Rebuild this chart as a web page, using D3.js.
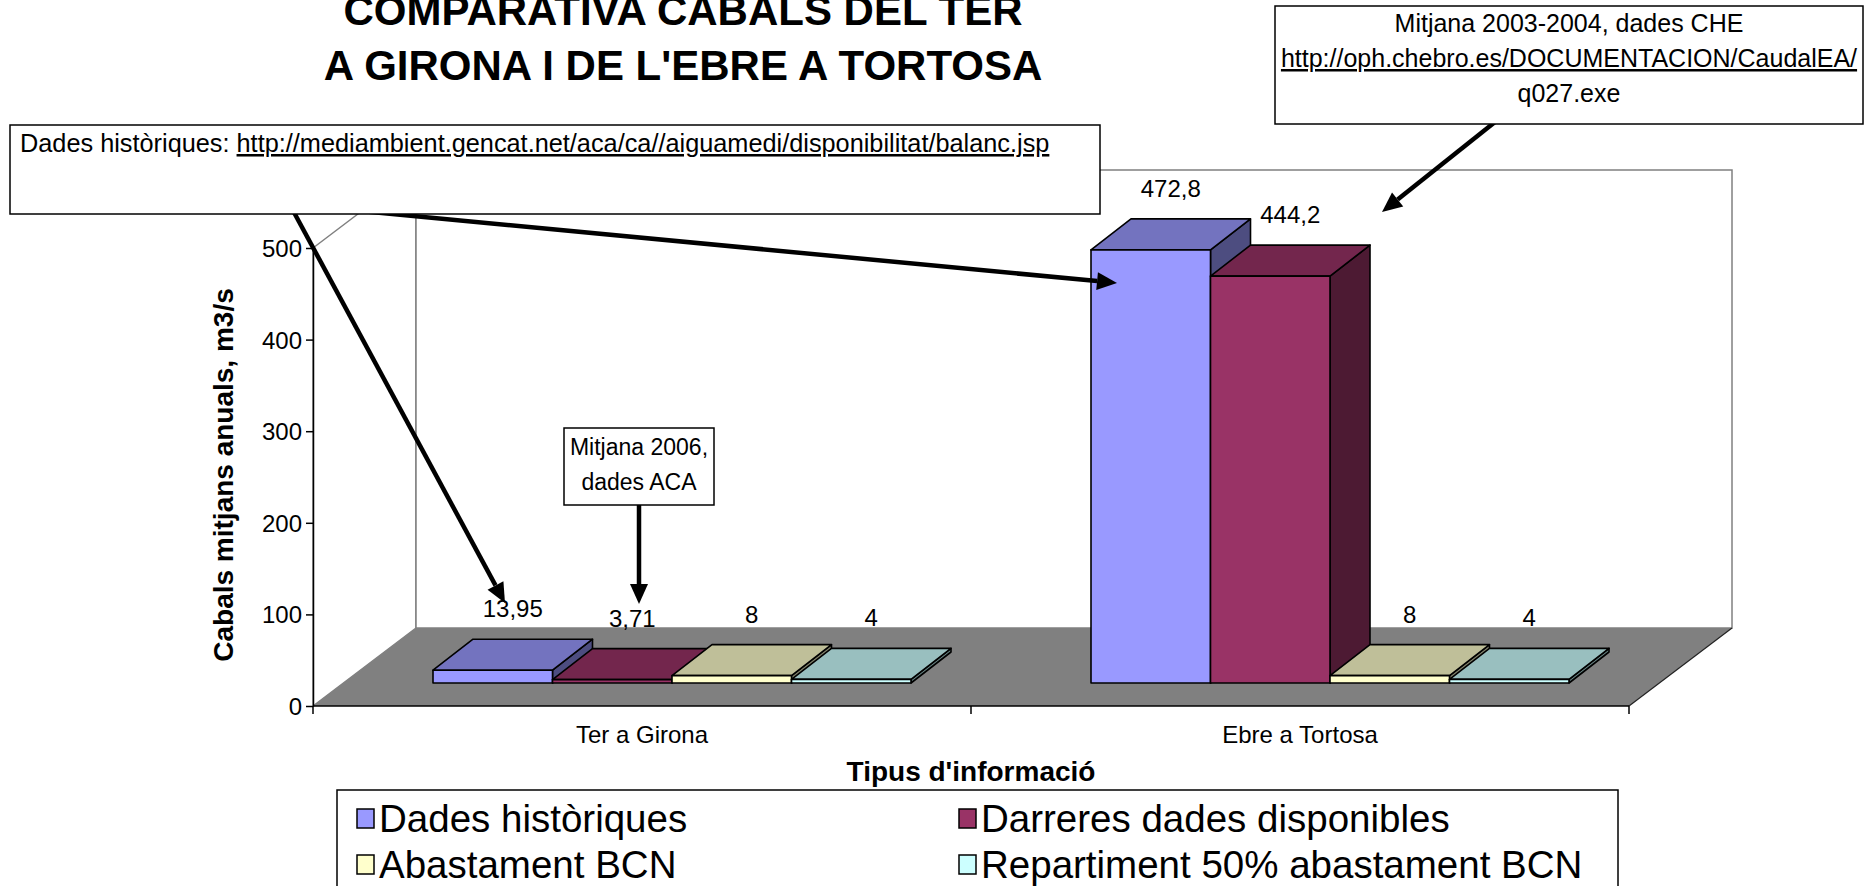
<!DOCTYPE html>
<html><head><meta charset="utf-8">
<script src="https://cdn.jsdelivr.net/npm/d3@7"></script>
<style>
body{margin:0;background:#fff}
svg{display:block}
text{font-family:"Liberation Sans",Arial,Helvetica,sans-serif;fill:#000}
</style>
</head><body>
<svg id="chart" width="1865" height="886"></svg>
<script>
// ---------------- data ----------------
const categories = ["Ter a Girona", "Ebre a Tortosa"];
const seriesNames = ["Dades històriques", "Darreres dades disponibles", "Abastament BCN", "Repartiment 50% abastament BCN"];
const terValues = [13.95, 3.71, 8, 4];
const ebreValues = [472.8, 444.2, 8, 4];
const yTickValues = [0, 100, 200, 300, 400, 500];
const frontColors = ["#9999FF", "#993366", "#FFFFCC", "#CCFFFF"];
const topColors = ["#7373BF", "#73264D", "#BFBF99", "#99BFBF"];
const sideColors = ["#4D4D80", "#4D1A33", "#80806A", "#668080"];
const titleLines = ["COMPARATIVA CABALS DEL TER", "A GIRONA I DE L'EBRE A TORTOSA"];
const yTitle = "Cabals mitjans anuals, m3/s";
const xTitle = "Tipus d'informació";

const valuesByCat = [terValues, ebreValues];
const fmt = v => String(v).replace(".", ",");

// ---------------- layout ----------------
const svg = d3.select("#chart");
const FRONT_L = 313, FRONT_R = 1629;
const x0 = d3.scaleBand().domain(categories).range([FRONT_L, FRONT_R]);
const x1 = d3.scaleBand().domain(seriesNames).range([90, 568]);
const y = d3.scaleLinear().domain([0, 500]).range([706, 248]);
const DEPTH = {dx: 103, dy: -78};
const FRONT = {dx: 30, dy: -23};
const BAR = {dx: 40, dy: -31};

const pts = a => a.map(p => p.join(",")).join(" ");

// ---------------- walls & floor ----------------
const yTop = y(500), yBase = y(0);
svg.append("polygon")
  .attr("points", pts([[FRONT_L, yTop], [FRONT_L + DEPTH.dx, yTop + DEPTH.dy], [FRONT_L + DEPTH.dx, yBase + DEPTH.dy], [FRONT_L, yBase]]))
  .attr("fill", "#fff").attr("stroke", "#808080").attr("stroke-width", 1.5);
svg.append("rect")
  .attr("x", FRONT_L + DEPTH.dx).attr("y", yTop + DEPTH.dy)
  .attr("width", FRONT_R - FRONT_L).attr("height", yBase - yTop)
  .attr("fill", "#fff").attr("stroke", "#808080").attr("stroke-width", 1.5);
svg.append("polygon")
  .attr("points", pts([[FRONT_L, yBase], [FRONT_R, yBase], [FRONT_R + DEPTH.dx, yBase + DEPTH.dy], [FRONT_L + DEPTH.dx, yBase + DEPTH.dy]]))
  .attr("fill", "#808080");
svg.append("line")
  .attr("x1", FRONT_R).attr("y1", yBase).attr("x2", FRONT_R + DEPTH.dx).attr("y2", yBase + DEPTH.dy)
  .attr("stroke", "#222").attr("stroke-width", 1.2);

// ---------------- axes ----------------
const yAxis = svg.append("g").attr("transform", `translate(${FRONT_L},0)`)
  .call(d3.axisLeft(y).tickValues(yTickValues).tickSize(7).tickSizeOuter(0).tickPadding(4));
yAxis.select(".domain").attr("stroke", "#000").attr("stroke-width", 1.5);
yAxis.selectAll(".tick line").attr("stroke", "#000").attr("stroke-width", 1.5);
yAxis.selectAll(".tick text").attr("font-size", 24).attr("font-family", "Liberation Sans, Arial, sans-serif").attr("fill", "#000").attr("dy", "0.35em");

const xg = svg.append("g");
xg.append("line").attr("x1", FRONT_L).attr("x2", FRONT_R).attr("y1", yBase).attr("y2", yBase)
  .attr("stroke", "#000").attr("stroke-width", 1.5);
const boundaries = categories.map(c => x0(c)).concat([x0(categories[categories.length - 1]) + x0.bandwidth()]);
xg.selectAll("line.tk").data(boundaries).join("line").attr("class", "tk")
  .attr("x1", d => d).attr("x2", d => d).attr("y1", yBase).attr("y2", yBase + 8)
  .attr("stroke", "#000").attr("stroke-width", 1.5);
xg.selectAll("text").data(categories).join("text")
  .attr("x", d => x0(d) + x0.bandwidth() / 2).attr("y", 743)
  .attr("text-anchor", "middle").attr("font-size", 24).text(d => d);

// ---------------- bars ----------------
const barsG = svg.append("g");
categories.forEach((cat, ci) => {
  valuesByCat[ci].forEach((v, si) => {
    const s = seriesNames[si];
    const bx = x0(cat) + FRONT.dx + x1(s);
    const w = x1.bandwidth();
    const yt = y(v) + FRONT.dy;
    const yb = y(0) + FRONT.dy;
    const g = barsG.append("g").attr("stroke", "#000").attr("stroke-width", 1.6).attr("stroke-linejoin", "round");
    g.append("polygon").attr("fill", sideColors[si])
      .attr("points", pts([[bx + w, yt], [bx + w + BAR.dx, yt + BAR.dy], [bx + w + BAR.dx, yb + BAR.dy], [bx + w, yb]]));
    g.append("polygon").attr("fill", topColors[si])
      .attr("points", pts([[bx, yt], [bx + w, yt], [bx + w + BAR.dx, yt + BAR.dy], [bx + BAR.dx, yt + BAR.dy]]));
    g.append("rect").attr("fill", frontColors[si])
      .attr("x", bx).attr("y", yt).attr("width", w).attr("height", yb - yt);
  });
});
// data labels
categories.forEach((cat, ci) => {
  valuesByCat[ci].forEach((v, si) => {
    const s = seriesNames[si];
    const bx = x0(cat) + FRONT.dx + x1(s);
    const w = x1.bandwidth();
    const yt = y(v) + FRONT.dy;
    svg.append("text").attr("x", bx + w / 2 + BAR.dx / 2).attr("y", yt + BAR.dy - 22)
      .attr("text-anchor", "middle").attr("font-size", 24).text(fmt(v));
  });
});

// ---------------- axis titles ----------------
svg.append("text").attr("transform", "translate(233,475) rotate(-90)")
  .attr("text-anchor", "middle").attr("font-size", 28).attr("font-weight", "bold").text(yTitle);
svg.append("text").attr("x", 971).attr("y", 781)
  .attr("text-anchor", "middle").attr("font-size", 28).attr("font-weight", "bold").text(xTitle);

// ---------------- arrows ----------------
function arrow(xa, ya, xb, yb) {
  const ang = Math.atan2(yb - ya, xb - xa);
  const L = 20, H = 9;
  const bxp = xb - L * Math.cos(ang), byp = yb - L * Math.sin(ang);
  svg.append("line").attr("x1", xa).attr("y1", ya).attr("x2", bxp).attr("y2", byp)
    .attr("stroke", "#000").attr("stroke-width", 4.5);
  svg.append("polygon").attr("fill", "#000").attr("points", pts([
    [xb, yb],
    [bxp + H * Math.sin(ang), byp - H * Math.cos(ang)],
    [bxp - H * Math.sin(ang), byp + H * Math.cos(ang)]
  ]));
}
arrow(290, 205, 505, 603);
arrow(298, 205, 1117, 283);
arrow(639, 504, 639, 604);
arrow(1500, 118, 1382, 212);

// ---------------- callouts ----------------
svg.append("rect").attr("x", 10).attr("y", 125).attr("width", 1090).attr("height", 89)
  .attr("fill", "#fff").attr("stroke", "#000").attr("stroke-width", 1.5);
const c1 = svg.append("text").attr("x", 20).attr("y", 152).attr("font-size", 25.3);
c1.append("tspan").text("Dades històriques: ");
c1.append("tspan").attr("text-decoration", "underline").text("http://mediambient.gencat.net/aca/ca//aiguamedi/disponibilitat/balanc.jsp");

svg.append("rect").attr("x", 1275).attr("y", 6).attr("width", 588).attr("height", 118)
  .attr("fill", "#fff").attr("stroke", "#000").attr("stroke-width", 1.5);
svg.append("text").attr("x", 1569).attr("y", 32).attr("text-anchor", "middle").attr("font-size", 25)
  .text("Mitjana 2003-2004, dades CHE");
svg.append("text").attr("x", 1569).attr("y", 67).attr("text-anchor", "middle").attr("font-size", 25)
  .attr("text-decoration", "underline").text("http://oph.chebro.es/DOCUMENTACION/CaudalEA/");
svg.append("text").attr("x", 1569).attr("y", 102).attr("text-anchor", "middle").attr("font-size", 25)
  .text("q027.exe");

svg.append("rect").attr("x", 564).attr("y", 428).attr("width", 150).attr("height", 77)
  .attr("fill", "#fff").attr("stroke", "#000").attr("stroke-width", 1.5);
svg.append("text").attr("x", 639).attr("y", 455).attr("text-anchor", "middle").attr("font-size", 23).text("Mitjana 2006,");
svg.append("text").attr("x", 639).attr("y", 490).attr("text-anchor", "middle").attr("font-size", 23).text("dades ACA");

// ---------------- title ----------------
svg.selectAll("text.title").data(titleLines).join("text").attr("class", "title")
  .attr("x", 683).attr("y", (d, i) => 25 + i * 55)
  .attr("text-anchor", "middle").attr("font-size", 42).attr("font-weight", "bold").text(d => d);

// ---------------- legend ----------------
svg.append("rect").attr("x", 337).attr("y", 790).attr("width", 1281).attr("height", 110)
  .attr("fill", "#fff").attr("stroke", "#000").attr("stroke-width", 1.5);
const legCols = [357, 959], legRows = [832, 878];
const leg = svg.selectAll("g.leg").data(seriesNames).join("g").attr("class", "leg")
  .attr("transform", (d, i) => `translate(${legCols[i % 2]},${legRows[Math.floor(i / 2)]})`);
leg.append("rect").attr("x", 0).attr("y", -23).attr("width", 17).attr("height", 19)
  .attr("fill", (d, i) => frontColors[i]).attr("stroke", "#000").attr("stroke-width", 1.5);
leg.append("text").attr("x", 22).attr("y", 0).attr("font-size", 38.5).text(d => d);
</script>
</body></html>
